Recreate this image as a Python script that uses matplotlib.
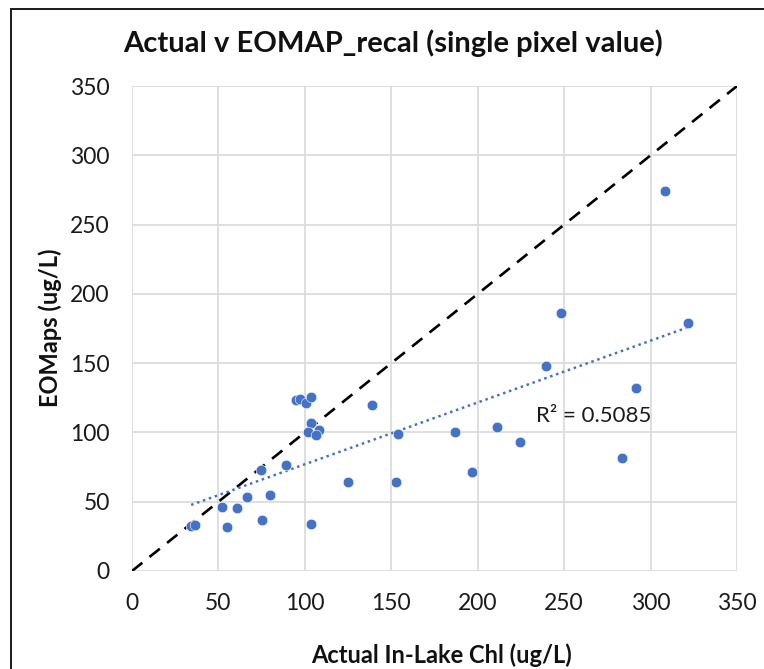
import matplotlib.pyplot as plt
import matplotlib.patches as patches
import numpy as np

# actual in-lake chl vs EOMAP values
actual = [34.2, 36.5, 52.1, 55.2, 60.6, 66.7, 74.7, 75.0, 79.9, 89.3,
          94.9, 97.2, 100.7, 103.4, 103.8, 102.0, 108.0, 106.5, 103.8, 125.0,
          139.1, 153.9, 152.8, 186.7, 196.8, 211.4, 224.5, 239.6, 248.3, 283.6,
          291.5, 308.4, 321.6]
eomap = [32.7, 33.3, 46.0, 31.7, 45.2, 53.2, 72.9, 36.8, 55.0, 76.3,
         123.6, 123.9, 121.2, 125.3, 107.0, 100.3, 101.7, 98.3, 34.1, 64.0,
         119.8, 98.6, 64.0, 100.0, 71.7, 103.9, 93.0, 148.3, 186.1, 81.5,
         132.0, 274.0, 178.9]
ticks = [0, 50, 100, 150, 200, 250, 300, 350]
r2_label = "R² = 0.5085"

plt.rcParams['font.family'] = ['Lato', 'DejaVu Sans']

fig = plt.figure(figsize=(7.64, 6.69), dpi=100)
ax = fig.add_axes([0.1728, 0.1465, 0.7919, 0.7249])

# outer chart frame (cut off on the right and bottom)
frame = patches.Rectangle((11 / 764, -0.05), 1.2, 1.05 - 9 / 669,
                          transform=fig.transFigure, fill=False,
                          edgecolor='#1a1a1a', linewidth=1.4)
fig.patches.append(frame)

# 1:1 line
ax.plot([0, 350], [0, 350], color='black', linestyle=(0, (5, 3.5)), linewidth=1.9, zorder=2)

# linear trendline
coef = np.polyfit(actual, eomap, 1)
xl = np.array([min(actual), max(actual)])
ax.plot(xl, np.polyval(coef, xl), color='#4472C4', linestyle=(0, (1, 1.5)), linewidth=1.8, zorder=2)

ax.scatter(actual, eomap, s=58, color='#4472C4', edgecolor='white', linewidth=0.4, zorder=3)

ax.text(267, 112, r2_label, fontsize=16, color='#1a1a1a', ha='center', va='center')

ax.set_xlim(0, 350)
ax.set_ylim(0, 350)
ax.set_xticks(ticks)
ax.set_yticks(ticks)
ax.grid(True, color='#d9d9d9', linewidth=1.2)
ax.set_axisbelow(True)
for s in ax.spines.values():
    s.set_visible(False)
ax.tick_params(length=0, labelsize=16.5, labelcolor='#1a1a1a')
ax.tick_params(axis='x', pad=16)
ax.tick_params(axis='y', pad=16)

fig.text(393 / 764, 1 - 43 / 669, "Actual v EOMAP_recal (single pixel value)",
         fontsize=21, fontweight='bold', color='#111111', ha='center', va='center')
ax.set_xlabel("Actual In-Lake Chl (ug/L)", fontsize=17, fontweight='bold', color='#111111')
ax.set_ylabel("EOMaps (ug/L)", fontsize=17, fontweight='bold', color='#111111')
ax.xaxis.set_label_coords(0.511, -0.173)
ax.yaxis.set_label_coords(-0.1355, 0.501)
ax.xaxis.label.set_va('center')
ax.yaxis.label.set_va('center')

fig.savefig("out.png", dpi=100)
